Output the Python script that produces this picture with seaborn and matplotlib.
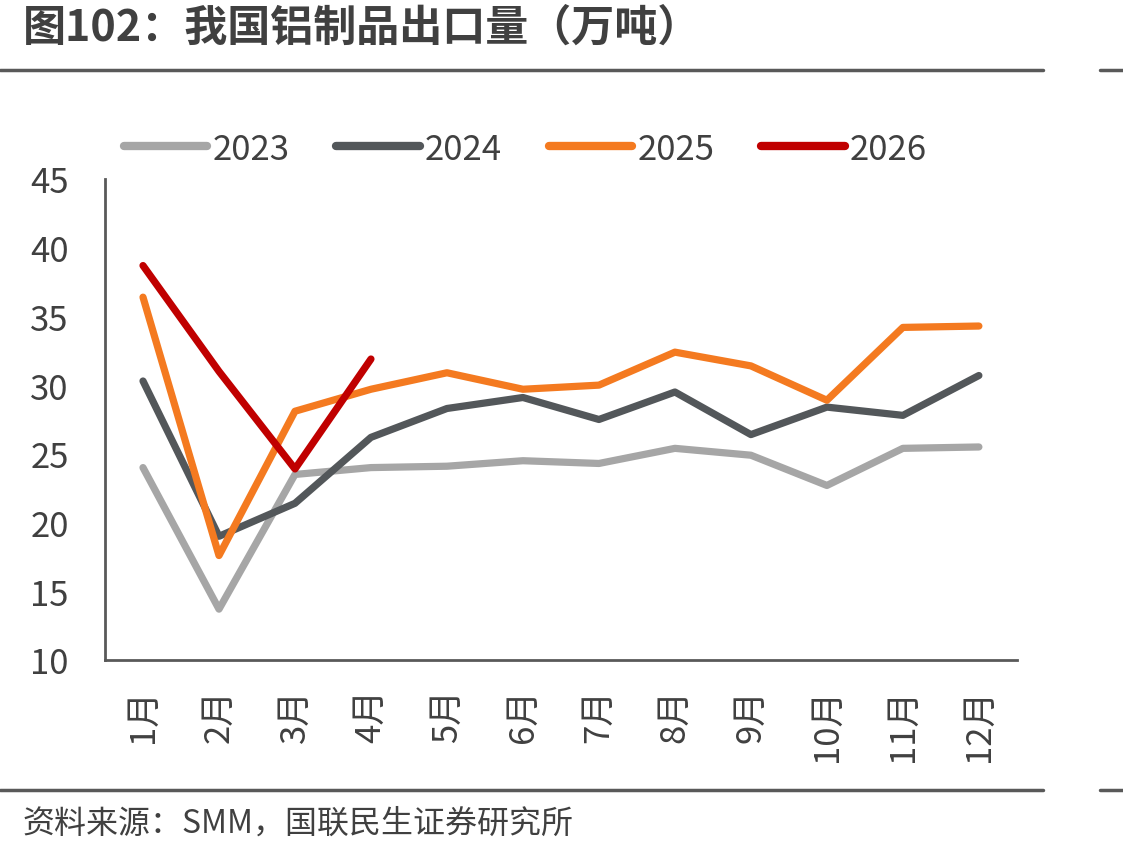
import numpy as np
import pandas as pd
import seaborn as sns
import matplotlib.pyplot as plt
from matplotlib.lines import Line2D

sns.set_style('white')
plt.rcParams['font.family'] = ['Noto Sans CJK SC', 'DejaVu Sans']
plt.rcParams['axes.unicode_minus'] = False

# 数据
months = ['1月', '2月', '3月', '4月', '5月', '6月', '7月', '8月', '9月', '10月', '11月', '12月']
v2023 = [24.0, 13.7, 23.5, 24.0, 24.1, 24.5, 24.3, 25.4, 24.9, 22.7, 25.4, 25.5]
v2024 = [30.3, 19.0, 21.4, 26.2, 28.3, 29.1, 27.5, 29.5, 26.4, 28.4, 27.8, 30.7]
v2025 = [36.4, 17.6, 28.1, 29.7, 30.9, 29.7, 30.0, 32.4, 31.4, 28.9, 34.2, 34.3]
v2026 = [38.7, 31.0, 23.9, 31.9]

years = ['2023', '2024', '2025', '2026']
colors = ['#A6A6A6', '#53575A', '#F47A20', '#C00000']

rows = []
for yr, vals in zip(years, [v2023, v2024, v2025, v2026]):
    for i, v in enumerate(vals):
        rows.append({'月份': i, '年份': yr, '出口量': v})
df = pd.DataFrame(rows)

fig = plt.figure(figsize=(11.23, 8.53), dpi=100)
ax = fig.add_axes([0.0935, 0.2251, 0.812, 0.5639])

sns.lineplot(data=df, x='月份', y='出口量', hue='年份', hue_order=years,
             palette=colors, linewidth=5.2, sort=False, ax=ax, legend=False)
for ln in ax.get_lines():
    ln.set_solid_capstyle('round')

ax.set_xlim(-0.5, 11.5)
ax.set_ylim(10, 45)
ax.set_yticks(range(10, 46, 5))
ax.set_xticks(range(12))
ax.set_xticklabels(months, rotation=90)
ax.set_xticks(np.arange(-0.5, 11, 1), minor=True)
ax.set_xlabel('')
ax.set_ylabel('')

axis_color = '#595959'
for side in ['top', 'right']:
    ax.spines[side].set_visible(False)
for side in ['left', 'bottom']:
    ax.spines[side].set_color(axis_color)
    ax.spines[side].set_linewidth(2)

ax.tick_params(axis='y', direction='out', length=9, width=2, color=axis_color,
               labelsize=25, labelcolor='#404040', pad=17)
ax.tick_params(axis='x', which='major', length=0, labelsize=25,
               labelcolor='#404040', pad=20)
ax.tick_params(axis='x', which='minor', direction='out', length=10, width=2,
               color=axis_color)

# 图例
handles = [Line2D([0], [0], color=c, lw=6, solid_capstyle='round') for c in colors]
fig.legend(handles, years, loc='center', bbox_to_anchor=(0.468, 0.824), ncol=4,
           frameon=False, fontsize=25, handlelength=2.4, handletextpad=0.15,
           columnspacing=1.35, labelcolor='#404040')

# 标题与来源
fig.text(0.02, 0.968, '图102：我国铝制品出口量（万吨）', fontsize=31, fontweight='bold',
         color='#404040', va='center', ha='left')
fig.text(0.02, 0.035, '资料来源：SMM，国联民生证券研究所', fontsize=23,
         color='#404040', va='center', ha='left')

# 分隔线
for y in [1 - 71 / 853, 1 - 791 / 853]:
    fig.add_artist(Line2D([0, 1043 / 1123], [y, y], color=axis_color, lw=2.5,
                          transform=fig.transFigure))
    fig.add_artist(Line2D([1100 / 1123, 1], [y, y], color=axis_color, lw=2.5,
                          transform=fig.transFigure))

fig.savefig('out.png', dpi=100)
